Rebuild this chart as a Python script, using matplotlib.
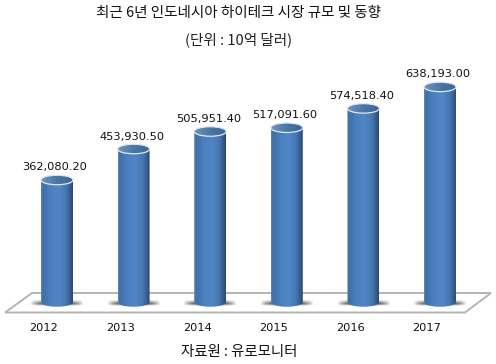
import numpy as np
import matplotlib
matplotlib.use('Agg')
import matplotlib.pyplot as plt
from matplotlib.colors import LinearSegmentedColormap
from matplotlib.patches import Ellipse, Polygon, PathPatch
from matplotlib.path import Path

plt.rcParams['font.family'] = ['Noto Sans CJK KR', 'DejaVu Sans']

years = ['2012', '2013', '2014', '2015', '2016', '2017']
values = [362080.20, 453930.50, 505951.40, 517091.60, 574518.40, 638193.00]
title = '최근 6년 인도네시아 하이테크 시장 규모 및 동향'
subtitle = '(단위 : 10억 달러)'
source = '자료원 : 유로모니터'

W, H = 496, 364
X_STEP = 76.6       # px between bars
X0 = 57             # px of first bar centre
BASE = 302          # px of value 0
Y_SCALE = 0.000337  # px per unit
BAR_W = 32 / X_STEP
ELL_H = 9.5 / Y_SCALE

fig = plt.figure(figsize=(W / 100, H / 100), dpi=100)
ax = fig.add_axes([0, 0, 1, 1])
ax.axis('off')

xlim = (-X0 / X_STEP, (W - X0) / X_STEP)
ylim = ((BASE - H) / Y_SCALE, BASE / Y_SCALE)

# floor
floor = Polygon([(5 / W, 1 - 312.5 / H), (465 / W, 1 - 312.5 / H), (491 / W, 1 - 293 / H), (32 / W, 1 - 293 / H)],
                closed=True, transform=ax.transAxes, facecolor='white', edgecolor='#b4b4b4', linewidth=1.4, zorder=1)
ax.add_patch(floor)

side_cmap = LinearSegmentedColormap.from_list('side', [
    (0.0, '#5f86b4'), (0.05, '#3f6fa6'), (0.3, '#4c80c0'), (0.55, '#5086c8'),
    (0.78, '#4878b2'), (0.93, '#35598a'), (1.0, '#294a70')])
top_cmap = LinearSegmentedColormap.from_list('top', ['#6f93bd', '#4a77a8', '#3c6594'])
ramp = np.linspace(0, 1, 64).reshape(1, -1)

theta = np.linspace(np.pi, 2 * np.pi, 40)

for i, (year, value) in enumerate(zip(years, values)):
    # shadow on the floor, dark next to the bar and tapering outward
    shadow = np.zeros((7, 64, 4))
    shadow[..., :3] = 0.3
    fade_x = np.clip(1 - np.abs(np.linspace(-1, 1, 64)) ** 3, 0, 1)
    fade_y = np.array([0.05, 0.2, 0.5, 0.85, 1.0, 0.7, 0.2]).reshape(-1, 1)
    shadow[..., 3] = fade_x * fade_y
    ax.imshow(shadow, extent=(i - 0.35, i + 0.35, -4 / Y_SCALE, 3 / Y_SCALE), aspect='auto', zorder=2)

    # cylinder body, clipped to rectangle + round bottom
    ex = BAR_W / 2 * np.cos(theta) + i
    ey = ELL_H / 2 * np.sin(theta)
    verts = list(zip(ex, ey)) + [(i + BAR_W / 2, value), (i - BAR_W / 2, value), (ex[0], ey[0])]
    body = PathPatch(Path(verts), facecolor='none', edgecolor='none', transform=ax.transData)
    ax.add_patch(body)
    im = ax.imshow(ramp, extent=(i - BAR_W / 2, i + BAR_W / 2, -ELL_H, value), cmap=side_cmap,
                   aspect='auto', zorder=3)
    im.set_clip_path(body)

    # top of the cylinder
    cap = Ellipse((i, value), BAR_W, ELL_H, facecolor='none', edgecolor='#dfe8f2', linewidth=0.9, zorder=5)
    ax.add_patch(cap)
    top = ax.imshow(ramp, extent=(i - BAR_W / 2, i + BAR_W / 2, value - ELL_H / 2, value + ELL_H / 2),
                    cmap=top_cmap, aspect='auto', zorder=4)
    top.set_clip_path(cap)

    ax.annotate(f'{value:,.2f}', (i, value), xytext=(-2 * 0.72, 12.5 * 0.72), textcoords='offset points',
                ha='center', va='center', fontsize=8.2, family='DejaVu Sans', color='#111111', zorder=6)
    ax.annotate(year, (i, 0), xytext=(-13 * 0.72, -26 * 0.72), textcoords='offset points',
                ha='center', va='center', fontsize=8.2, family='DejaVu Sans', color='#111111', zorder=6)

ax.set_xlim(xlim)
ax.set_ylim(ylim)

ax.text(238.5 / W, 1 - 13 / H, title, transform=ax.transAxes, ha='center', va='center', fontsize=10.5, color='#111111')
ax.text(238.5 / W, 1 - 39.5 / H, subtitle, transform=ax.transAxes, ha='center', va='center', fontsize=10.5, color='#222222')
ax.text(239 / W, 1 - 352 / H, source, transform=ax.transAxes, ha='center', va='center', fontsize=10.4, color='#111111')

fig.savefig('out.png', dpi=100)
